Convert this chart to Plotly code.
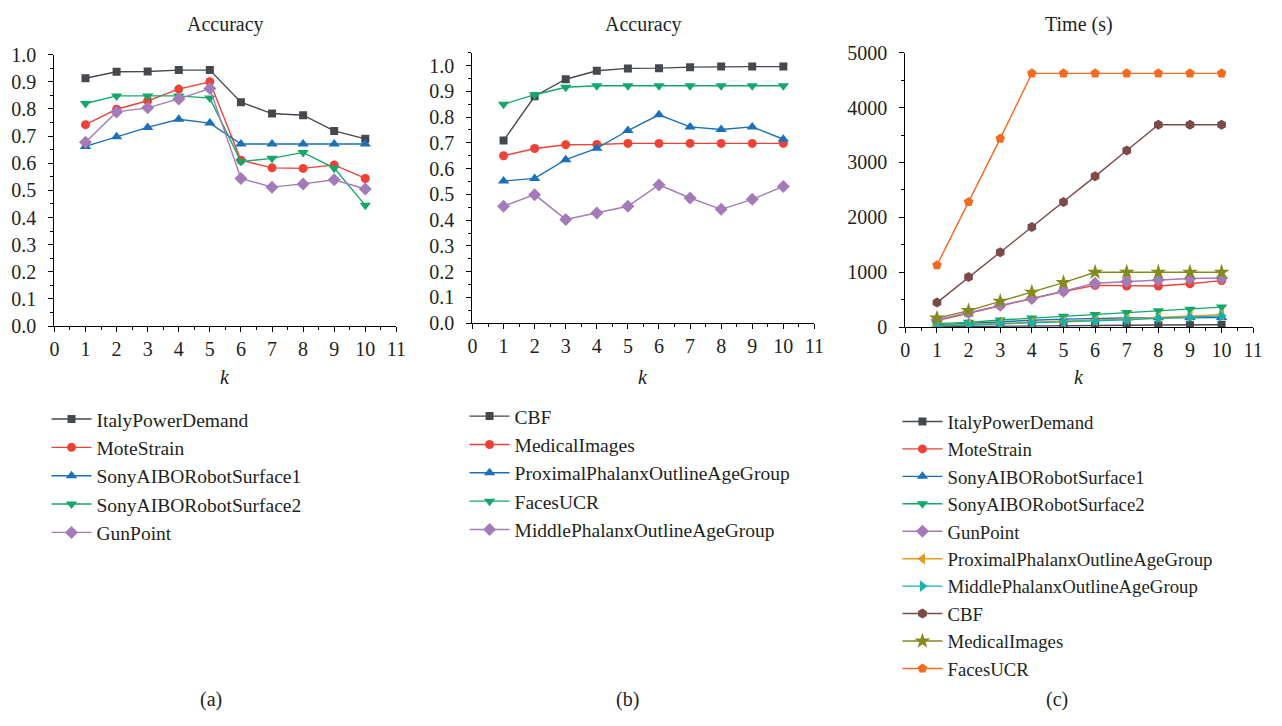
import plotly.graph_objects as go

# k values shared by all panels
k = [1, 2, 3, 4, 5, 6, 7, 8, 9, 10]

# Panel (a): accuracy
acc_a_names = ["ItalyPowerDemand", "MoteStrain", "SonyAIBORobotSurface1",
               "SonyAIBORobotSurface2", "GunPoint"]
italy_acc = [0.913, 0.937, 0.938, 0.943, 0.943, 0.825, 0.783, 0.777, 0.719, 0.690]
mote_acc = [0.742, 0.799, 0.830, 0.873, 0.900, 0.611, 0.583, 0.581, 0.594, 0.544]
sony1_acc = [0.662, 0.698, 0.732, 0.762, 0.748, 0.671, 0.671, 0.671, 0.671, 0.671]
sony2_acc = [0.820, 0.848, 0.848, 0.848, 0.840, 0.606, 0.618, 0.640, 0.582, 0.445]
gun_acc = [0.677, 0.789, 0.804, 0.837, 0.875, 0.544, 0.512, 0.524, 0.539, 0.505]

# Panel (b): accuracy
acc_b_names = ["CBF", "MedicalImages", "ProximalPhalanxOutlineAgeGroup",
               "FacesUCR", "MiddlePhalanxOutlineAgeGroup"]
cbf_acc = [0.709, 0.881, 0.947, 0.980, 0.989, 0.990, 0.994, 0.996, 0.996, 0.996]
med_acc = [0.650, 0.678, 0.693, 0.694, 0.698, 0.698, 0.698, 0.698, 0.698, 0.698]
prox_acc = [0.552, 0.562, 0.635, 0.679, 0.748, 0.809, 0.762, 0.752, 0.762, 0.714]
faces_acc = [0.850, 0.887, 0.916, 0.922, 0.922, 0.922, 0.922, 0.922, 0.922, 0.922]
mid_acc = [0.454, 0.499, 0.403, 0.428, 0.454, 0.537, 0.486, 0.442, 0.481, 0.531]

# Panel (c): running time in seconds
time_names = ["ItalyPowerDemand", "MoteStrain", "SonyAIBORobotSurface1",
              "SonyAIBORobotSurface2", "GunPoint", "ProximalPhalanxOutlineAgeGroup",
              "MiddlePhalanxOutlineAgeGroup", "CBF", "MedicalImages", "FacesUCR"]
italy_t = [8, 10, 14, 18, 22, 28, 33, 38, 40, 42]
mote_t = [120, 250, 390, 515, 650, 760, 750, 750, 790, 848]
sony1_t = [40, 70, 100, 125, 145, 160, 165, 170, 175, 175]
sony2_t = [64, 87, 129, 164, 199, 228, 265, 298, 327, 365]
gun_t = [135, 265, 400, 520, 655, 800, 830, 860, 885, 895]
prox_t = [30, 50, 68, 85, 100, 120, 150, 178, 200, 228]
mid_t = [20, 38, 55, 70, 90, 110, 135, 160, 182, 205]
cbf_t = [447, 912, 1365, 1824, 2282, 2747, 3218, 3688, 3688, 3688]
medimg_t = [164, 300, 470, 635, 810, 1000, 1000, 1000, 1000, 1000]
faces_t = [1129, 2282, 3435, 4624, 4624, 4624, 4624, 4624, 4624, 4624]

GRAY = "#45494d"
RED = "#ef4136"
BLUE = "#1c6fba"
GREEN = "#13a86a"
PURPLE = "#a27bb8"
AMBER = "#e39a1f"
TEAL = "#14b2aa"
BROWN = "#7d4a4a"
OLIVE = "#858a1d"
ORANGE = "#f36b21"

FONT = "'Liberation Serif', 'DejaVu Serif', 'Times New Roman', serif"
TXT = "#231f20"

fig = go.Figure()


def add_series(name, y, color, symbol, axis, legend, size=9):
    fig.add_trace(go.Scatter(
        x=k, y=y, name=name, mode="lines+markers",
        line=dict(color=color, width=1.4),
        marker=dict(symbol=symbol, size=size, color=color),
        xaxis="x" + axis, yaxis="y" + axis,
        legend=legend, legendgroup=legend + name,
    ))


# (a)
add_series(acc_a_names[0], italy_acc, GRAY, "square", "", "legend", 8)
add_series(acc_a_names[1], mote_acc, RED, "circle", "", "legend")
add_series(acc_a_names[2], sony1_acc, BLUE, "triangle-up", "", "legend", 10)
add_series(acc_a_names[3], sony2_acc, GREEN, "triangle-down", "", "legend", 10)
add_series(acc_a_names[4], gun_acc, PURPLE, "diamond", "", "legend", 10)

# (b)
add_series(acc_b_names[0], cbf_acc, GRAY, "square", "2", "legend2", 8)
add_series(acc_b_names[1], med_acc, RED, "circle", "2", "legend2")
add_series(acc_b_names[2], prox_acc, BLUE, "triangle-up", "2", "legend2", 10)
add_series(acc_b_names[3], faces_acc, GREEN, "triangle-down", "2", "legend2", 10)
add_series(acc_b_names[4], mid_acc, PURPLE, "diamond", "2", "legend2", 10)

# (c)
time_series = [italy_t, mote_t, sony1_t, sony2_t, gun_t, prox_t, mid_t, cbf_t, medimg_t, faces_t]
time_colors = [GRAY, RED, BLUE, GREEN, PURPLE, AMBER, TEAL, BROWN, OLIVE, ORANGE]
time_symbols = ["square", "circle", "triangle-up", "triangle-down", "diamond",
                "triangle-left", "triangle-right", "hexagon", "star", "pentagon"]
time_sizes = [8, 9, 10, 10, 10, 10, 10, 10, 12, 10]
for nm, ys, col, sym, sz in zip(time_names, time_series, time_colors, time_symbols, time_sizes):
    add_series(nm, ys, col, sym, "3", "legend3", sz)

W, H = 1282, 726


def px_x(p):
    return p / W


def px_y(p):
    return (H - p) / H


def xaxis_cfg(x0, x1, anchor):
    return dict(
        domain=[px_x(x0), px_x(x1)], anchor=anchor, range=[0, 11],
        tickmode="linear", tick0=0, dtick=1,
        showline=True, linecolor="black", linewidth=1.3,
        ticks="outside", ticklen=5, tickwidth=1.2, tickcolor="black",
        minor=dict(dtick=0.5, ticks="outside", ticklen=3, tickwidth=1, tickcolor="black"),
        showgrid=False, zeroline=False,
        tickfont=dict(family=FONT, size=20, color=TXT),
        ticklabelstandoff=0,
    )


def yaxis_cfg(y0, y1, anchor, rng, dtick, minor_dtick, fmt):
    return dict(
        domain=[px_y(y1), px_y(y0)], anchor=anchor, range=rng,
        tickmode="linear", tick0=0, dtick=dtick, tickformat=fmt,
        showline=True, linecolor="black", linewidth=1.3,
        ticks="outside", ticklen=5, tickwidth=1.2, tickcolor="black",
        minor=dict(dtick=minor_dtick, ticks="outside", ticklen=3, tickwidth=1, tickcolor="black"),
        showgrid=False, zeroline=False,
        tickfont=dict(family=FONT, size=20, color=TXT),
        ticklabelstandoff=8,
    )


def legend_cfg(left, top, size):
    return dict(
        x=px_x(left), y=px_y(top),
        font=dict(family=FONT, size=size, color=TXT),
        bgcolor="rgba(0,0,0,0)", xanchor="left", yanchor="top",
        tracegroupgap=0, itemwidth=40,
    )


fig.update_layout(
    width=W, height=H, margin=dict(l=0, r=0, t=0, b=0),
    paper_bgcolor="white", plot_bgcolor="white",
    showlegend=True,
    font=dict(family=FONT, color=TXT),
    xaxis=xaxis_cfg(50, 396, "y"),
    yaxis=yaxis_cfg(45, 325, "x", [0, 1.0], 0.1, 0.05, ".1f"),
    xaxis2=xaxis_cfg(473, 819, "y2"),
    yaxis2=yaxis_cfg(43, 322, "x2", [0, 1.05], 0.1, 0.05, ".1f"),
    xaxis3=xaxis_cfg(911, 1263, "y3"),
    yaxis3=yaxis_cfg(43, 326, "x3", [0, 5000], 1000, 500, "d"),
    legend=legend_cfg(42, 401, 19.5),
    legend2=legend_cfg(465, 398, 19.5),
    legend3=legend_cfg(903, 404, 18.8),
)

# panel titles, axis labels and sub-captions
labels = [
    ("Accuracy", 223, 14, False), ("Accuracy", 646, 14, False), ("Time (s)", 1087, 14, False),
    ("k", 223, 377, True), ("k", 646, 377, True), ("k", 1087, 377, True),
    ("(a)", 208, 710, False), ("(b)", 630, 710, False), ("(c)", 1064, 710, False),
]
for text, cx, cy, italic in labels:
    fig.add_annotation(
        text=f"<i>{text}</i>" if italic else text,
        x=px_x(cx), y=px_y(cy), xref="paper", yref="paper",
        xanchor="center", yanchor="middle", showarrow=False,
        font=dict(family=FONT, size=20, color=TXT),
    )

fig.write_html("out.html")
